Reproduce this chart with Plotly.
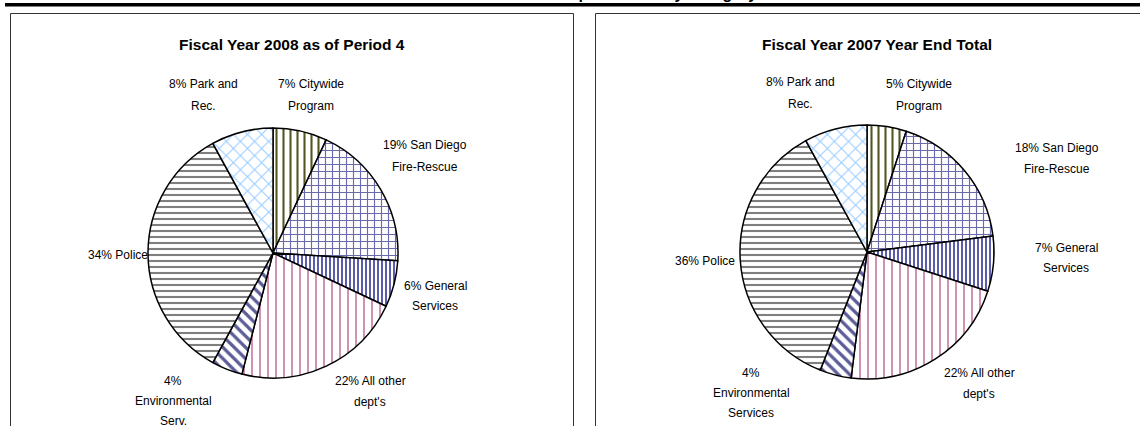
import plotly.graph_objects as go

W, H = 1140, 426

categories = ["Citywide Program", "San Diego Fire-Rescue", "General Services",
              "All other dept's", "Environmental Services", "Police", "Park and Rec."]
values_2008 = [7, 19, 6, 22, 4, 34, 8]
values_2007 = [5, 18, 7, 22, 4, 36, 8]

titles = ["Fiscal Year 2008 as of Period 4", "Fiscal Year 2007 Year End Total"]
page_title = "Overtime Expenditures by Category"

# label wording (as printed next to each slice); first line gets the percent
names_2008 = [["Citywide", "Program"], ["San Diego", "Fire-Rescue"], ["General", "Services"],
              ["All other", "dept's"], ["", "Environmental", "Serv."], ["Police"], ["Park and", "Rec."]]
names_2007 = [["Citywide", "Program"], ["San Diego", "Fire-Rescue"], ["General", "Services"],
              ["All other", "dept's"], ["", "Environmental", "Services"], ["Police"], ["Park and", "Rec."]]

# label anchor positions in pixels (center x, first-line y, line spacing)
pos_2008 = [(311, 84, 22), (425, 145, 22), (435, 286, 20), (370, 381, 21),
            (173, 381, 20), (118, 255, 20), (203, 84, 22)]
pos_2007 = [(919, 84, 22), (1057, 148, 21), (1066, 248, 20), (979, 373, 21),
            (751, 373, 20), (705, 261, 20), (800, 82, 22)]

shapes_ = ["|", "+", "|", "|", "\\", "-", "x"]
fgcols = ["#555522", "#6a6aa8", "#333399", "#b04a80", "#5c5c99", "#7f7f7f", "#99ccff"]
sizes = [7, 7, 4, 8, 8, 6, 10]
solid = [0.3, 0.3, 0.4, 0.15, 0.4, 0.35, 0.2]


def px_x(x):
    return x / W


def px_y(y):
    return 1 - y / H


fig = go.Figure()

pies = [
    (values_2008, (148, 398), (128, 378)),
    (values_2007, (740, 994), (125, 379)),
]
for vals, (x0, x1), (yt, yb) in pies:
    fig.add_trace(go.Pie(
        labels=categories, values=vals, sort=False, direction="clockwise", rotation=0,
        textinfo="none", hoverinfo="label+percent", showlegend=False,
        domain=dict(x=[px_x(x0), px_x(x1)], y=[px_y(yb), px_y(yt)]),
        marker=dict(
            colors=["white"] * len(vals),
            line=dict(color="black", width=1.5),
            pattern=dict(shape=shapes_, fgcolor=fgcols, bgcolor="white",
                         size=sizes, solidity=solid, fillmode="replace"),
        ),
    ))

annotations = []
for vals, names, pos in [(values_2008, names_2008, pos_2008), (values_2007, names_2007, pos_2007)]:
    for v, nm, (cx, cy, sp) in zip(vals, names, pos):
        lines = [(f"{v}% " + nm[0]).strip()] + nm[1:]
        for i, t in enumerate(lines):
            annotations.append(dict(
                x=px_x(cx), y=px_y(cy + i * sp), xref="paper", yref="paper",
                text=t, showarrow=False, xanchor="center", yanchor="middle",
                font=dict(family="Liberation Sans, Arial", size=12, color="black")))

for t, cx in zip(titles, [292, 877]):
    annotations.append(dict(
        x=px_x(cx), y=px_y(44), xref="paper", yref="paper", text=f"<b>{t}</b>",
        showarrow=False, xanchor="center", yanchor="middle",
        font=dict(family="Liberation Sans, Arial", size=15.5, color="black")))

annotations.append(dict(
    x=px_x(758), y=px_y(3.5), xref="paper", yref="paper", text=f"<b>{page_title}</b>",
    showarrow=False, xanchor="right", yanchor="bottom", borderpad=0,
    font=dict(family="Liberation Sans, Arial", size=16, color="black")))

shapes = [
    dict(type="rect", xref="paper", yref="paper", x0=px_x(5), x1=1.01, y0=px_y(6.5), y1=px_y(3),
         fillcolor="black", line=dict(width=0), layer="above"),
    dict(type="rect", xref="paper", yref="paper", x0=px_x(10.5), x1=px_x(573.5),
         y0=-0.05, y1=px_y(13.5), fillcolor="rgba(0,0,0,0)", line=dict(color="#333333", width=1)),
    dict(type="rect", xref="paper", yref="paper", x0=px_x(595.5), x1=1.05,
         y0=-0.05, y1=px_y(13.5), fillcolor="rgba(0,0,0,0)", line=dict(color="#333333", width=1)),
]

fig.update_layout(
    width=W, height=H, margin=dict(l=0, r=0, t=0, b=0),
    paper_bgcolor="white", plot_bgcolor="white",
    annotations=annotations, shapes=shapes,
)

fig.write_html("out.html", config={"displayModeBar": False},
               post_script="document.body.style.margin='0';document.body.style.overflow='hidden';")
